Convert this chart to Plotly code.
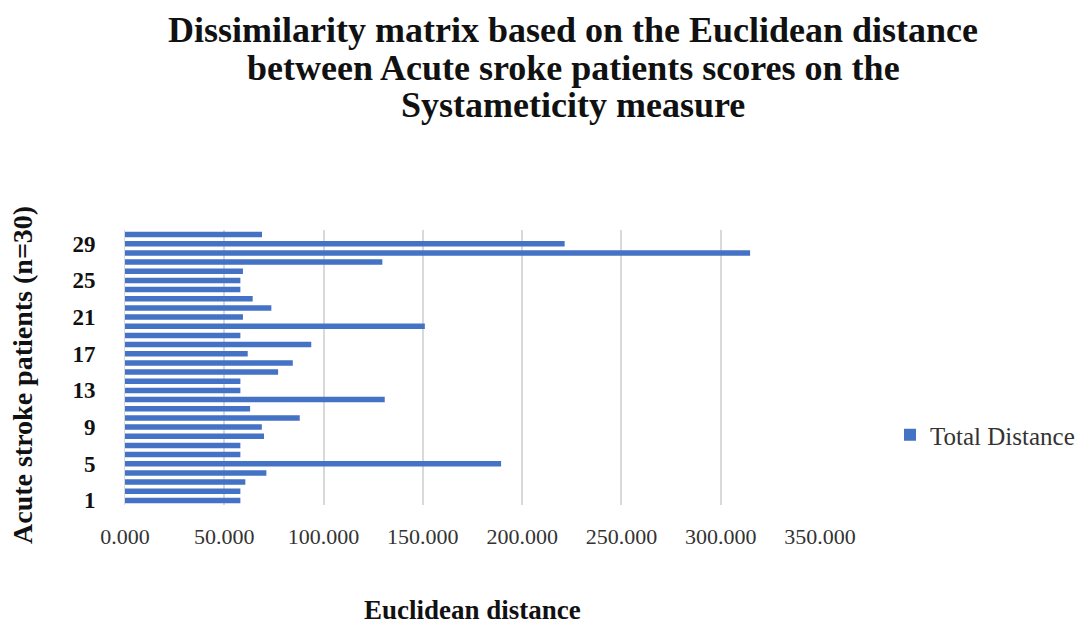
import plotly.graph_objects as go

# Patient index (1..30) and total Euclidean distance per patient
patients = list(range(1, 31))
total_distance = [
    58.1, 58.1, 60.6, 71.2, 189.4, 58.1, 58.1, 70.0, 68.9, 88.0,
    63.0, 130.8, 58.1, 58.1, 77.1, 84.5, 61.8, 93.8, 58.1, 151.0,
    59.4, 73.7, 64.3, 58.1, 58.1, 59.4, 129.6, 314.8, 221.4, 69.0,
]
y_tick_vals = [1, 5, 9, 13, 17, 21, 25, 29]
x_tick_vals = [0, 50, 100, 150, 200, 250, 300, 350]

title_lines = [
    "Dissimilarity matrix based on the Euclidean distance",
    "between Acute sroke patients scores on the",
    "Systameticity measure",
]

serif = "Liberation Serif, Times New Roman, serif"

fig = go.Figure(
    go.Bar(
        x=total_distance,
        y=patients,
        orientation="h",
        name="Total Distance",
        marker=dict(color="#4472C4", line=dict(width=0)),
        showlegend=True,
    )
)

# plot area: x 125..820 px, y 230..505 px
L, R, T, B = 125, 258, 230, 119
W, H = 1078, 624
pw, ph = W - L - R, H - T - B


def px_to_paper(x_px, y_px):
    return (x_px - L) / pw, (H - B - y_px) / ph


annotations = []
for i, line in enumerate(title_lines):
    cx, cy = px_to_paper(573, 30 + 37.5 * i)
    annotations.append(dict(
        text=f"<b>{line}</b>", x=cx, y=cy, xref="paper", yref="paper",
        xanchor="center", yanchor="middle", showarrow=False,
        font=dict(family=serif, size=36, color="#111111"),
    ))

xt_x, xt_y = px_to_paper(472, 610)
annotations.append(dict(
    text="<b>Euclidean distance</b>", x=xt_x, y=xt_y, xref="paper", yref="paper",
    xanchor="center", yanchor="middle", showarrow=False,
    font=dict(family=serif, size=27, color="#111111"),
))

yt_x, yt_y = px_to_paper(22, 375)
annotations.append(dict(
    text="<b>Acute stroke patients (n=30)</b>", x=yt_x, y=yt_y,
    xref="paper", yref="paper", xanchor="center", yanchor="middle",
    textangle=-90, showarrow=False,
    font=dict(family=serif, size=28, color="#111111"),
))

fig.update_layout(
    width=W,
    height=H,
    paper_bgcolor="white",
    plot_bgcolor="white",
    margin=dict(l=L, r=R, t=T, b=B, autoexpand=False),
    bargap=0.4,
    annotations=annotations,
    legend=dict(
        x=(890 - L) / pw,
        y=(H - B - 435) / ph,
        xanchor="left",
        yanchor="middle",
        font=dict(family=serif, size=25, color="#333333"),
        bgcolor="rgba(0,0,0,0)",
        itemwidth=30,
    ),
    font=dict(family=serif, color="#222222"),
)

fig.update_xaxes(
    range=[0, 350],
    tickvals=x_tick_vals,
    tickformat=".3f",
    showgrid=True,
    gridcolor="#d9d9d9",
    gridwidth=2,
    zeroline=False,
    showline=False,
    ticks="",
    ticklabelstandoff=16,
    tickfont=dict(family=serif, size=22, color="#333333"),
)

fig.update_yaxes(
    range=[0.5, 30.5],
    tickvals=y_tick_vals,
    showgrid=False,
    zeroline=False,
    showline=True,
    linecolor="#d9d9d9",
    linewidth=1,
    ticks="",
    ticklabelstandoff=24,
    tickfont=dict(family=serif, size=23, color="#111111", weight="bold"),
)

fig.write_html("out.html")
